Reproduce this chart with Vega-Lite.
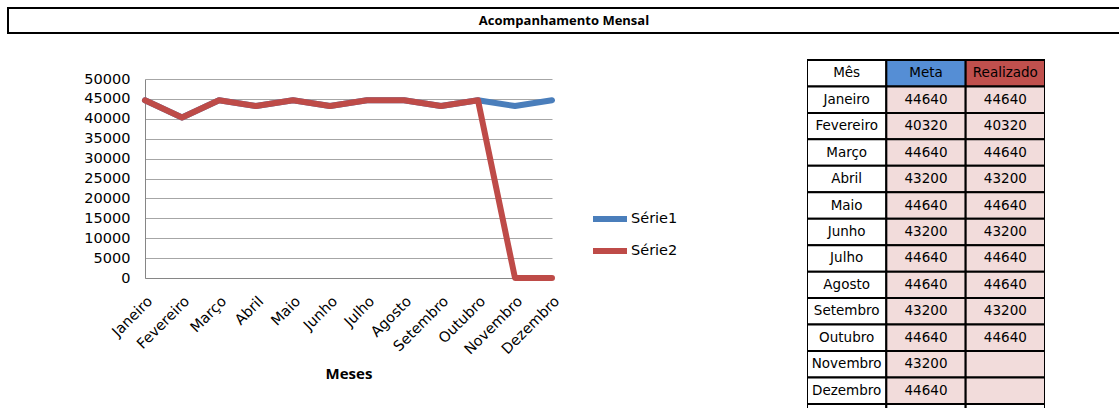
{
  "$schema": "https://vega.github.io/schema/vega-lite/v6.json",
  "padding": {"left": 7, "top": 7, "right": 0, "bottom": 0},
  "background": "white",
  "config": {
    "view": {"stroke": null},
    "font": "DejaVu Sans",
    "axis": {"labelColor": "black", "titleColor": "black"},
    "legend": {"labelColor": "black"}
  },
  "datasets": {
    "serie": [
      {"mes": "Janeiro", "n": 1, "serie": "Série1", "valor": 44640},
      {"mes": "Fevereiro", "n": 2, "serie": "Série1", "valor": 40320},
      {"mes": "Março", "n": 3, "serie": "Série1", "valor": 44640},
      {"mes": "Abril", "n": 4, "serie": "Série1", "valor": 43200},
      {"mes": "Maio", "n": 5, "serie": "Série1", "valor": 44640},
      {"mes": "Junho", "n": 6, "serie": "Série1", "valor": 43200},
      {"mes": "Julho", "n": 7, "serie": "Série1", "valor": 44640},
      {"mes": "Agosto", "n": 8, "serie": "Série1", "valor": 44640},
      {"mes": "Setembro", "n": 9, "serie": "Série1", "valor": 43200},
      {"mes": "Outubro", "n": 10, "serie": "Série1", "valor": 44640},
      {"mes": "Novembro", "n": 11, "serie": "Série1", "valor": 43200},
      {"mes": "Dezembro", "n": 12, "serie": "Série1", "valor": 44640},
      {"mes": "Janeiro", "n": 1, "serie": "Série2", "valor": 44640},
      {"mes": "Fevereiro", "n": 2, "serie": "Série2", "valor": 40320},
      {"mes": "Março", "n": 3, "serie": "Série2", "valor": 44640},
      {"mes": "Abril", "n": 4, "serie": "Série2", "valor": 43200},
      {"mes": "Maio", "n": 5, "serie": "Série2", "valor": 44640},
      {"mes": "Junho", "n": 6, "serie": "Série2", "valor": 43200},
      {"mes": "Julho", "n": 7, "serie": "Série2", "valor": 44640},
      {"mes": "Agosto", "n": 8, "serie": "Série2", "valor": 44640},
      {"mes": "Setembro", "n": 9, "serie": "Série2", "valor": 43200},
      {"mes": "Outubro", "n": 10, "serie": "Série2", "valor": 44640},
      {"mes": "Novembro", "n": 11, "serie": "Série2", "valor": 0},
      {"mes": "Dezembro", "n": 12, "serie": "Série2", "valor": 0}
    ],
    "tabela": [
      {"ordem": 0, "Mês": "Mês", "Meta": "Meta", "Realizado": "Realizado"},
      {"ordem": 1, "Mês": "Janeiro", "Meta": "44640", "Realizado": "44640"},
      {"ordem": 2, "Mês": "Fevereiro", "Meta": "40320", "Realizado": "40320"},
      {"ordem": 3, "Mês": "Março", "Meta": "44640", "Realizado": "44640"},
      {"ordem": 4, "Mês": "Abril", "Meta": "43200", "Realizado": "43200"},
      {"ordem": 5, "Mês": "Maio", "Meta": "44640", "Realizado": "44640"},
      {"ordem": 6, "Mês": "Junho", "Meta": "43200", "Realizado": "43200"},
      {"ordem": 7, "Mês": "Julho", "Meta": "44640", "Realizado": "44640"},
      {"ordem": 8, "Mês": "Agosto", "Meta": "44640", "Realizado": "44640"},
      {"ordem": 9, "Mês": "Setembro", "Meta": "43200", "Realizado": "43200"},
      {"ordem": 10, "Mês": "Outubro", "Meta": "44640", "Realizado": "44640"},
      {"ordem": 11, "Mês": "Novembro", "Meta": "43200", "Realizado": ""},
      {"ordem": 12, "Mês": "Dezembro", "Meta": "44640", "Realizado": ""},
      {"ordem": 13, "Mês": "", "Meta": "", "Realizado": ""}
    ]
  },
  "spacing": 25,
  "vconcat": [
    {
      "width": 1112,
      "height": 25,
      "view": {"stroke": "black", "strokeWidth": 2},
      "data": {"values": [{"titulo": "Acompanhamento Mensal"}]},
      "mark": {"type": "text", "font": "Open Sans", "fontWeight": "bold", "fontSize": 13, "color": "black"},
      "encoding": {"text": {"field": "titulo", "type": "nominal"}}
    },
    {
      "spacing": 129,
      "resolve": {"scale": {"x": "independent", "y": "independent", "color": "independent", "fill": "independent"}},
      "hconcat": [
        {
          "width": 544,
          "height": 219,
          "data": {"name": "serie"},
          "mark": {"type": "line", "strokeWidth": 6, "strokeCap": "round", "strokeJoin": "round"},
          "encoding": {
            "x": {
              "field": "mes", "type": "ordinal", "sort": null,
              "scale": {"type": "point", "padding": 0, "range": [137, 544]},
              "axis": {
                "title": "Meses", "labelAngle": -45, "labelFontSize": 14.5, "ticks": false,
                "domainColor": "#868686", "labelPadding": 16, "titleFontSize": 15,
                "titleFont": "Open Sans", "titleFontWeight": "bold", "titlePadding": 10, "grid": false
              }
            },
            "y": {
              "field": "valor", "type": "quantitative",
              "scale": {"domain": [0, 50000], "nice": false, "range": [219, 20]},
              "axis": {
                "values": [0, 5000, 10000, 15000, 20000, 25000, 30000, 35000, 40000, 45000, 50000],
                "format": "d", "title": null, "offset": -137,
                "ticks": false, "domainColor": "#868686", "gridColor": "#A6A6A6",
                "labelFontSize": 14.5, "labelPadding": 15
              }
            },
            "order": {"field": "n", "type": "quantitative"},
            "color": {
              "field": "serie", "type": "nominal",
              "scale": {"domain": ["Série1", "Série2"], "range": ["#4A7EBB", "#BE4B48"]},
              "legend": {
                "title": null, "orient": "none", "legendX": 582, "legendY": 140,
                "symbolType": "stroke", "symbolSize": 1156, "symbolStrokeWidth": 6,
                "labelFontSize": 14.5, "labelOffset": 1, "rowPadding": -2, "padding": 0
              }
            }
          }
        },
        {
          "width": 238,
          "height": 349,
          "data": {"name": "tabela"},
          "transform": [{"fold": ["Mês", "Meta", "Realizado"], "as": ["coluna", "texto"]}],
          "encoding": {
            "x": {"field": "coluna", "type": "nominal", "sort": ["Mês", "Meta", "Realizado"], "scale": {"paddingInner": 0, "paddingOuter": 0}, "axis": null},
            "y": {"field": "ordem", "type": "ordinal", "scale": {"range": [1, 371.4], "paddingInner": 0, "paddingOuter": 0}, "axis": null}
          },
          "layer": [
            {
              "mark": {"type": "rect", "stroke": "black", "strokeWidth": 2, "clip": true},
              "encoding": {
                "fill": {
                  "field": "coluna", "type": "nominal",
                  "scale": {"domain": ["Mês", "Meta", "Realizado"], "range": ["white", "#558ED5", "#C0504D"]},
                  "legend": null,
                  "condition": [
                    {"test": "datum.coluna === 'Mês' || datum.ordem === 13", "value": "white"},
                    {"test": "datum.ordem > 0", "value": "#F2DCDB"}
                  ]
                }
              }
            },
            {
              "mark": {"type": "text", "fontSize": 13.5, "color": "black", "clip": true},
              "encoding": {"text": {"field": "texto", "type": "nominal"}}
            }
          ]
        }
      ]
    }
  ]
}
